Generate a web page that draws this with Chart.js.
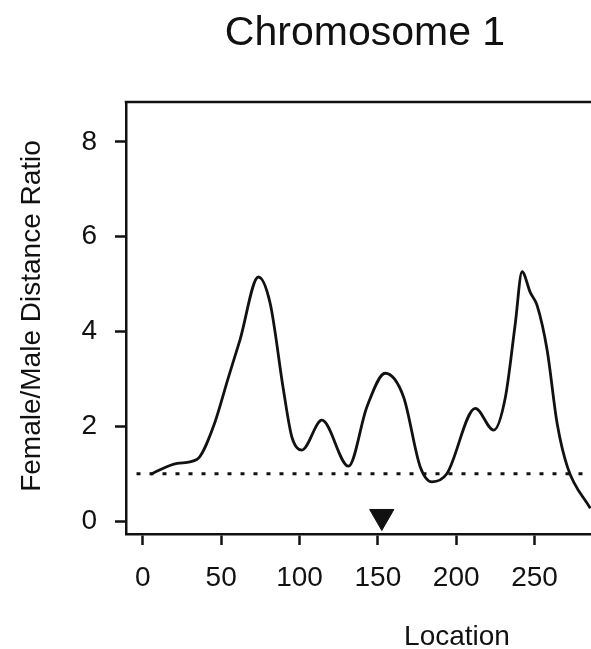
<!DOCTYPE html>
<html>
<head>
<meta charset="utf-8">
<title>Chromosome 1</title>
<script src="https://cdn.jsdelivr.net/npm/chart.js@4.4.1/dist/chart.umd.min.js"></script>
<style>
  body { margin: 0; background: #fff; overflow: hidden; }
  #wrap { position: relative; width: 591px; height: 649px; }
</style>
</head>
<body>
<div id="wrap"><canvas id="myChart"></canvas></div>
<script>
// Data
const locations = [5, 22, 34.5, 45, 54.7, 62, 73.8, 81.3, 89.8, 95.1, 101.5, 114.3, 131.3, 143, 154.7, 166.4, 177, 184.5, 194, 212.2, 223.9, 231.4, 237.7, 242, 247.3, 251.6, 258, 264.4, 271.2, 285.6];
const ratios = [0.99, 1.22, 1.30, 1.99, 3.04, 3.82, 5.15, 4.59, 2.76, 1.78, 1.50, 2.13, 1.16, 2.41, 3.12, 2.62, 1.15, 0.83, 1.0, 2.38, 1.92, 2.62, 4.17, 5.26, 4.82, 4.55, 3.61, 2.06, 1.12, 0.27];

// dotted reference line at ratio 1
const refLocations = [-4, 290];
const refValues = [1, 1];

// triangle marker
const markerLocation = [152.5];
const markerValue = [0.1];

const xTicks = [0, 50, 100, 150, 200, 250];
const yTicks = [0, 2, 4, 6, 8];

const FONT = '"Liberation Sans", Arial, Helvetica, sans-serif';

function toPoints(xs, ys) {
  return xs.map((x, i) => ({ x: x, y: ys[i] }));
}

// titles and the top border of the box
const textPlugin = {
  id: "texts",
  afterDraw(chart) {
    const ctx = chart.ctx;
    const area = chart.chartArea;
    ctx.save();
    ctx.strokeStyle = "#111";
    ctx.lineWidth = 2.5;
    ctx.beginPath();
    ctx.moveTo(area.left - 1.25, area.top);
    ctx.lineTo(area.right + 2, area.top);
    ctx.stroke();

    ctx.fillStyle = "#111";
    ctx.textAlign = "center";
    ctx.textBaseline = "alphabetic";
    ctx.font = "41px " + FONT;
    ctx.fillText("Chromosome 1", 365, 45);

    ctx.font = "28px " + FONT;
    ctx.fillText("Location", 457, 645);

    ctx.translate(40, 316);
    ctx.rotate(-Math.PI / 2);
    ctx.fillText("Female/Male Distance Ratio", 0, 0);
    ctx.restore();
  },
};

const ctx = document.getElementById("myChart").getContext("2d");
new Chart(ctx, {
  type: "line",
  data: {
    datasets: [
      {
        label: "Ratio",
        data: toPoints(locations, ratios),
        borderColor: "#111",
        borderWidth: 2.8,
        pointRadius: 0,
        cubicInterpolationMode: "monotone",
        fill: false,
      },
      {
        label: "Reference",
        data: toPoints(refLocations, refValues),
        borderColor: "#111",
        borderWidth: 3,
        borderDash: [4, 9],
        pointRadius: 0,
        fill: false,
      },
      {
        label: "Marker",
        data: toPoints(markerLocation, markerValue),
        showLine: false,
        pointStyle: "triangle",
        rotation: 180,
        pointRadius: 14,
        pointBackgroundColor: "#111",
        pointBorderColor: "#111",
        pointBorderWidth: 1,
      },
    ],
  },
  options: {
    responsive: true,
    maintainAspectRatio: false,
    animation: false,
    layout: { autoPadding: false, padding: { top: 102, left: 0, right: 0, bottom: 0 } },
    plugins: {
      legend: { display: false },
      tooltip: { enabled: false },
    },
    scales: {
      x: {
        type: "linear",
        min: -10.7,
        max: 286,
        afterBuildTicks: (scale) => {
          scale.ticks = xTicks.map((v) => ({ value: v }));
        },
        afterFit: (scale) => {
          scale.height = 115;
          scale.paddingLeft = 0;
          scale.paddingRight = 0;
        },
        border: { display: true, color: "#111", width: 2.5 },
        grid: {
          drawOnChartArea: false,
          drawTicks: true,
          tickLength: 11,
          tickWidth: 2.5,
          tickColor: "#111",
        },
        ticks: {
          autoSkip: false,
          maxRotation: 0,
          padding: 16,
          color: "#111",
          font: { family: FONT, size: 28 },
        },
      },
      y: {
        type: "linear",
        min: -0.27,
        max: 8.84,
        afterBuildTicks: (scale) => {
          scale.ticks = yTicks.map((v) => ({ value: v }));
        },
        afterFit: (scale) => {
          scale.width = 126;
          scale.paddingTop = 0;
          scale.paddingBottom = 0;
        },
        border: { display: true, color: "#111", width: 2.5 },
        grid: {
          drawOnChartArea: false,
          drawTicks: true,
          tickLength: 11,
          tickWidth: 2.5,
          tickColor: "#111",
        },
        ticks: {
          padding: 18,
          color: "#111",
          font: { family: FONT, size: 28 },
        },
      },
    },
  },
  plugins: [textPlugin],
});
</script>
</body>
</html>
